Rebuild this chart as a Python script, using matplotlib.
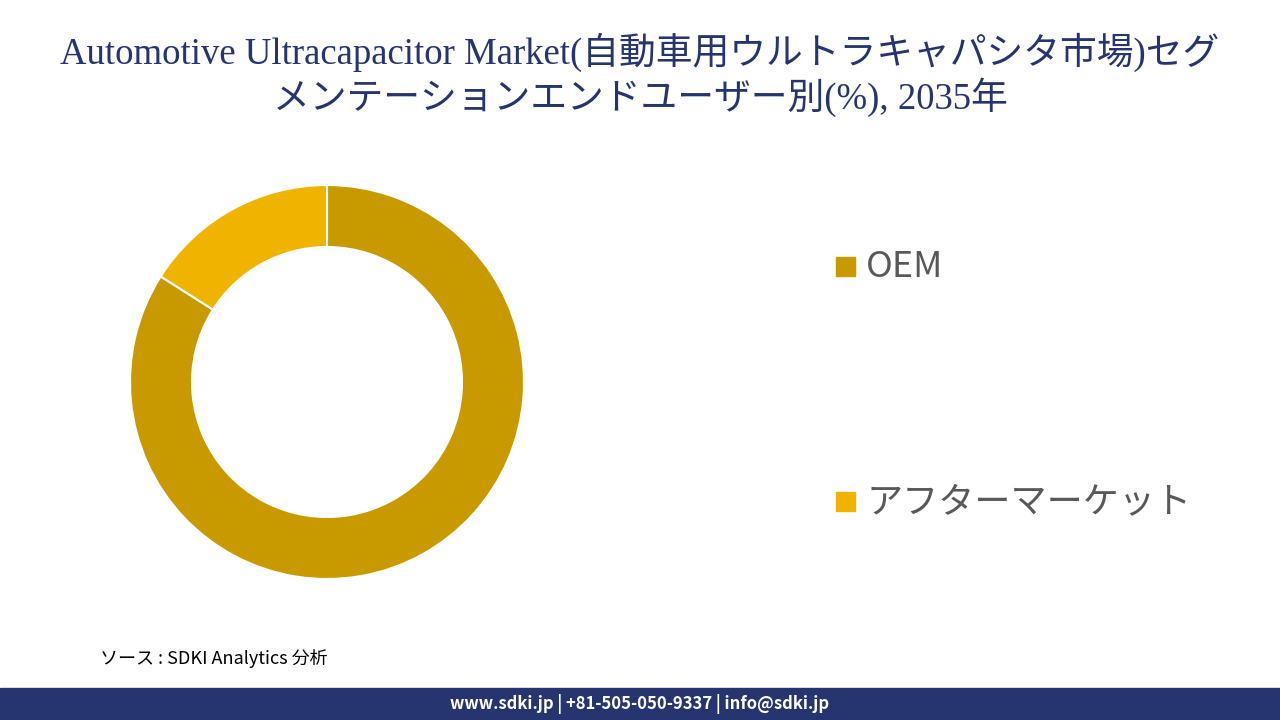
import matplotlib
matplotlib.use("Agg")
import matplotlib.pyplot as plt
from matplotlib.patches import Rectangle

labels = ["OEM", "アフターマーケット"]
values = [84, 16]
colors = ["#C89A00", "#F0B400"]

plt.rcParams['font.family'] = ['Noto Sans CJK JP', 'DejaVu Sans']
fig = plt.figure(figsize=(12.8, 7.2), dpi=100)

W, H = 1280, 720
cx, cy, r = 327, 382, 197
ax = fig.add_axes([(cx - r) / W, 1 - (cy + r) / H, 2 * r / W, 2 * r / H])
ax.pie(values, colors=colors, startangle=90, counterclock=False,
       wedgeprops=dict(width=62 / 197, edgecolor="white", linewidth=1.5), radius=1)
ax.set_xlim(-1, 1); ax.set_ylim(-1, 1); ax.set_aspect('equal'); ax.axis('off')

navy = "#263470"
fig.text(0.5, 1 - 52 / H, "Automotive Ultracapacitor Market(自動車用ウルトラキャパシタ市場)セグ",
         ha='center', va='center', fontsize=26.5, color=navy,
         family=['Liberation Serif', 'Noto Sans CJK JP'])
fig.text(0.5, 1 - 97 / H, "メンテーションエンドユーザー別(%), 2035年",
         ha='center', va='center', fontsize=26.5, color=navy,
         family=['Liberation Serif', 'Noto Sans CJK JP'])

for lab, col, y in zip(labels, colors, [267, 502]):
    fig.patches.append(Rectangle((836 / W, 1 - (y + 9) / H), 19 / W, 19 / H,
                                 transform=fig.transFigure, color=col))
    fig.text(866 / W, 1 - y / H, lab, ha='left', va='center', fontsize=26, color="#595959")

fig.text(100 / W, 1 - 658 / H, "ソース : SDKI Analytics 分析", ha='left', va='center',
         fontsize=13, style='italic', color="black")

fig.patches.append(Rectangle((0, 0), 1, 32 / H, transform=fig.transFigure, color=navy))
fig.text(0.5, 16 / H, "www.sdki.jp | +81-505-050-9337 | info@sdki.jp", ha='center',
         va='center', fontsize=12, color='white', weight='bold')

fig.savefig("out.png", dpi=100)
